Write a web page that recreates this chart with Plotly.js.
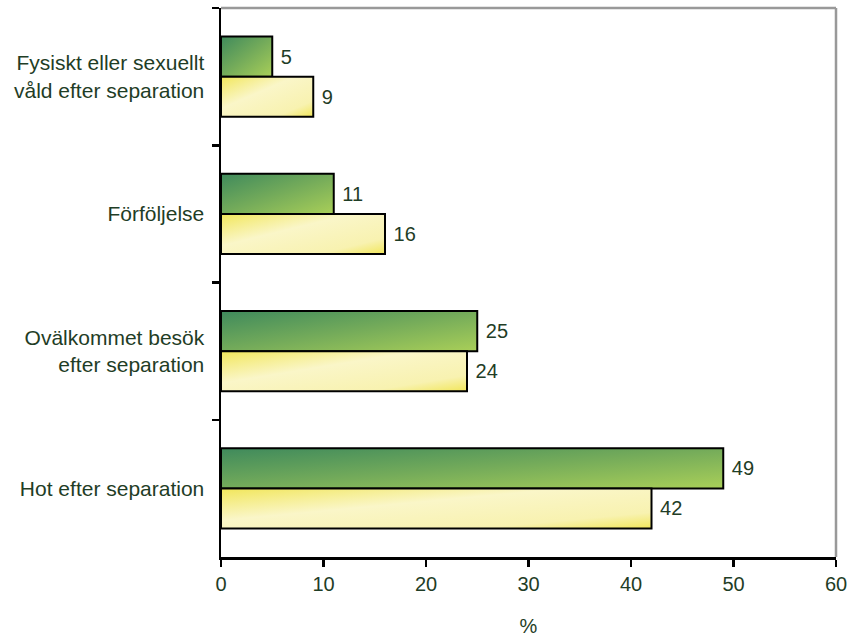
<!DOCTYPE html>
<html>
<head>
<meta charset="utf-8">
<script src="https://cdn.plot.ly/plotly-3.0.1.min.js"></script>
<style>
  html, body { margin: 0; padding: 0; background: #fff; }
  #chart { width: 847px; height: 637px; }
</style>
</head>
<body>
<div id="chart"></div>
<script>
const categories = [
  "Fysiskt eller sexuellt<br>våld efter separation",
  "Förföljelse",
  "Ovälkommet besök<br>efter separation",
  "Hot efter separation"
];
const seriesGreen = [5, 11, 25, 49];
const seriesYellow = [9, 16, 24, 42];
const xTicks = [0, 10, 20, 30, 40, 50, 60];

const textColor = "#1f3d26";
const font = "'Liberation Sans', Arial, sans-serif";

const traces = [
  {
    type: "bar", orientation: "h", name: "Serie 1",
    y: categories, x: seriesGreen,
    text: seriesGreen.map(v => "\u00a0" + v), textposition: "outside", cliponaxis: false,
    textfont: {color: textColor, size: 20, family: font},
    marker: {color: "#72a85a", line: {color: "#000", width: 2}}
  },
  {
    type: "bar", orientation: "h", name: "Serie 2",
    y: categories, x: seriesYellow,
    text: seriesYellow.map(v => "\u00a0" + v), textposition: "outside", cliponaxis: false,
    textfont: {color: textColor, size: 20, family: font},
    marker: {color: "#f6f09a", line: {color: "#000", width: 2}}
  }
];

const layout = {
  width: 847, height: 637,
  margin: {l: 221, r: 11, t: 8, b: 80},
  paper_bgcolor: "#fff", plot_bgcolor: "#fff",
  showlegend: false,
  barmode: "group", bargap: 0.416, bargroupgap: 0,
  font: {family: font, color: textColor, size: 20},
  xaxis: {
    range: [0, 60], tickvals: xTicks, ticktext: xTicks.map(String),
    showgrid: false, zeroline: false,
    showline: true, linecolor: "#000", linewidth: 2.5,
    ticks: "outside", ticklen: 7, tickwidth: 2.5, tickcolor: "#000",
    ticklabeloverflow: "allow",
    tickfont: {size: 20, color: textColor, family: font},
    title: {text: "%", font: {size: 20, color: textColor, family: font}, standoff: 26}
  },
  yaxis: {
    type: "category", autorange: "reversed",
    showgrid: false, zeroline: false,
    showline: true, linecolor: "#000", linewidth: 2.5,
    ticks: "outside", tickson: "boundaries", ticklen: 7, tickwidth: 2.5, tickcolor: "#000",
    ticklabelstandoff: 10,
    tickfont: {size: 21, color: textColor, family: font}
  },
  shapes: [
    {type: "line", xref: "paper", yref: "paper", x0: 0, x1: 1, y0: 1, y1: 1, line: {color: "#999", width: 2.5}},
    {type: "line", xref: "paper", yref: "paper", x0: 1, x1: 1, y0: 0, y1: 1, line: {color: "#999", width: 2.5}}
  ]
};

Plotly.newPlot("chart", traces, layout, {staticPlot: true, displayModeBar: false}).then(function (gd) {
  const svgNS = "http://www.w3.org/2000/svg";
  const svg = gd.querySelector("svg.main-svg");
  let defs = svg.querySelector("defs");
  if (!defs) { defs = document.createElementNS(svgNS, "defs"); svg.insertBefore(defs, svg.firstChild); }
  function grad(id, stops) {
    const g = document.createElementNS(svgNS, "linearGradient");
    g.setAttribute("id", id);
    g.setAttribute("x1", "0"); g.setAttribute("y1", "0");
    g.setAttribute("x2", "1"); g.setAttribute("y2", "1");
    stops.forEach(function (s) {
      const st = document.createElementNS(svgNS, "stop");
      st.setAttribute("offset", s[0]);
      st.setAttribute("stop-color", s[1]);
      g.appendChild(st);
    });
    defs.appendChild(g);
  }
  grad("gGreen", [["0", "#3f8a5c"], ["0.5", "#74ab5a"], ["1", "#a9cf58"]]);
  grad("gYellow", [["0", "#f1e65a"], ["0.4", "#faf6c8"], ["0.8", "#f8f2b0"], ["1", "#f1e65a"]]);
  const groups = gd.querySelectorAll(".barlayer .trace.bars");
  groups.forEach(function (grp, i) {
    grp.querySelectorAll("path").forEach(function (p) {
      p.style.fill = i === 0 ? "url(#gGreen)" : "url(#gYellow)";
    });
  });
});
</script>
</body>
</html>
